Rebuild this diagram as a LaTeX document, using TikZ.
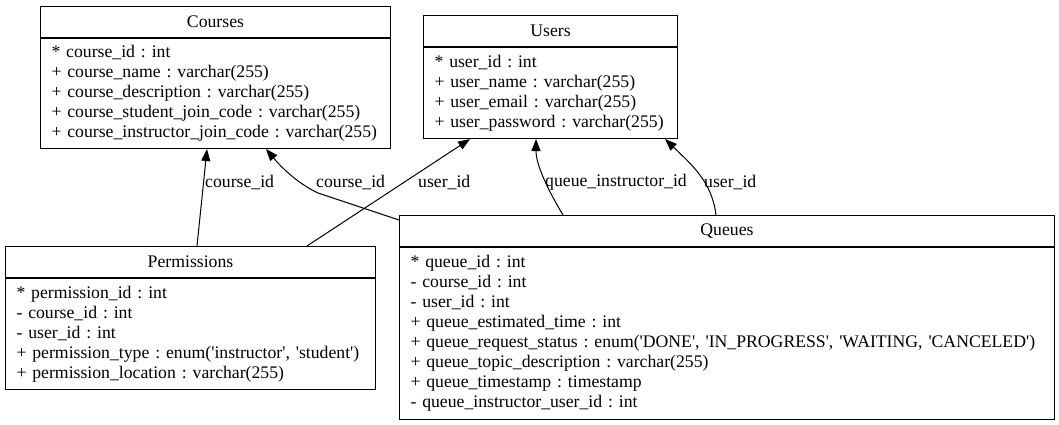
\documentclass[tikz,border=0pt]{standalone}
\usepackage{fontspec}
\setmainfont{Liberation Serif}
\usepackage{tikz}
\usetikzlibrary{arrows.meta,positioning,calc}
\newcommand{\sq}{\textquotesingle}

\begin{document}
\begin{tikzpicture}[
    x=1pt, y=-1pt,
    every node/.style={font=\fontsize{17.7}{20}\selectfont\frenchspacing},
    title/.style={rectangle, draw, line width=1pt, anchor=north west, minimum height=31pt, inner sep=0pt},
    body/.style={rectangle, draw, line width=1pt, anchor=north west, inner xsep=11pt, inner ysep=0pt,
        align=left, execute at begin node={\hyphenpenalty=10000 \exhyphenpenalty=10000}},
    fk/.style={-{Triangle[length=12pt, width=9pt]}, line width=1pt},
    lbl/.style={anchor=west, inner sep=0pt}
]
    \useasboundingbox (0,0) rectangle (1059,424);

    % Courses table
    \node[title, minimum width=350pt] (coursestitle) at (40,6) {Courses};
    \node[body, text width=328pt, minimum height=110pt] (coursesbody) at (coursestitle.south west)
        {* course\_id : int\\
         + course\_name : varchar(255)\\
         + course\_description : varchar(255)\\
         + course\_student\_join\_code : varchar(255)\\
         + course\_instructor\_join\_code : varchar(255)};

    % Users table
    \node[title, minimum width=254pt] (userstitle) at (423,15) {Users};
    \node[body, text width=232pt, minimum height=91pt] (usersbody) at (userstitle.south west)
        {* user\_id : int\\
         + user\_name : varchar(255)\\
         + user\_email : varchar(255)\\
         + user\_password : varchar(255)};

    % Permissions table
    \node[title, minimum width=370pt] (permtitle) at (5,246) {Permissions};
    \node[body, text width=348pt, minimum height=111pt] (permbody) at (permtitle.south west)
        {* permission\_id : int\\
         - course\_id : int\\
         - user\_id : int\\
         + permission\_type : enum(\sq instructor\sq, \sq student\sq)\\
         + permission\_location : varchar(255)};

    % Queues table
    \node[title, minimum width=655pt] (queuestitle) at (399,215) {Queues};
    \node[body, text width=633pt, minimum height=172pt] (queuesbody) at (queuestitle.south west)
        {* queue\_id : int\\
         - course\_id : int\\
         - user\_id : int\\
         + queue\_estimated\_time : int\\
         + queue\_request\_status : enum(\sq DONE\sq, \sq IN\_PROGRESS\sq, \sq WAITING, \sq CANCELED\sq)\\
         + queue\_topic\_description : varchar(255)\\
         + queue\_timestamp : timestamp\\
         - queue\_instructor\_user\_id : int};

    % foreign keys
    \draw[fk] ($(permtitle.north west)+(192,0)$) -- ($(coursesbody.south west)+(167,0)$);
    \draw[fk] ($(queuestitle.north west)+(0,5)$) -- (318,193)
        .. controls (305,187) and (288,175) .. ($(coursesbody.south west)+(226,0)$);
    \draw[fk] ($(permtitle.north west)+(302,0)$) -- ($(usersbody.south west)+(47,0)$);
    \draw[fk] ($(queuestitle.north west)+(164,0)$)
        .. controls (548,190) and (536,165) .. ($(usersbody.south west)+(113,0)$);
    \draw[fk] ($(queuestitle.north west)+(317,0)$)
        .. controls (712,182) and (692,165) .. ($(usersbody.south west)+(242,0)$);

    % edge labels
    \node[lbl] (permcourselbl) at (205,182) {course\_id};
    \node[lbl] (queuecourselbl) at (316,182) {course\_id};
    \node[lbl] (permuserlbl) at (418,182) {user\_id};
    \node[lbl] (queueinstrlbl) at (545,182) {queue\_instructor\_id};
    \node[lbl] (queueuserlbl) at (704,182) {user\_id};
\end{tikzpicture}
\end{document}
